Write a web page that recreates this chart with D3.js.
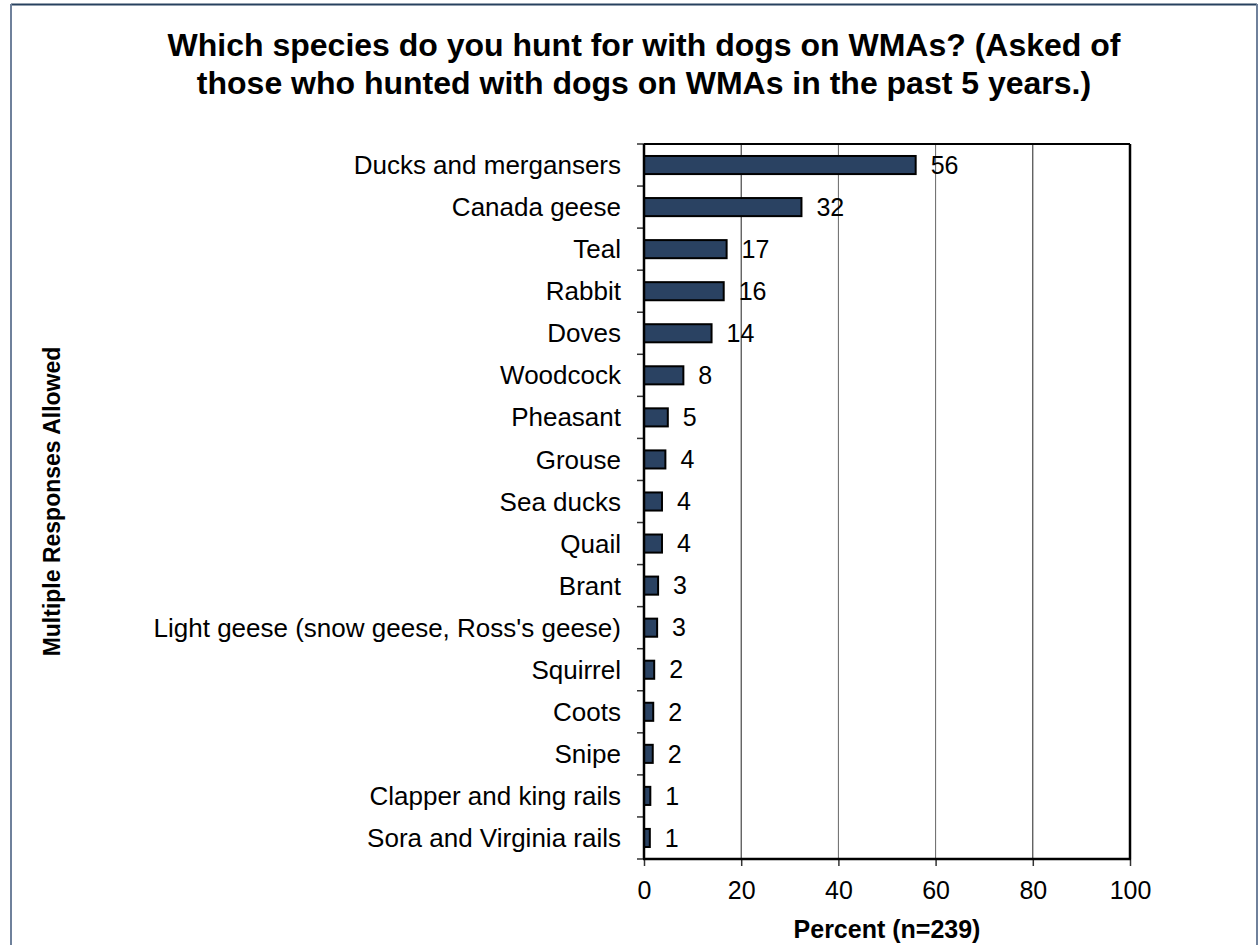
<!DOCTYPE html>
<html>
<head>
<meta charset="utf-8">
<script src="https://cdn.jsdelivr.net/npm/d3@7"></script>
<style>
  html, body { margin: 0; padding: 0; background: #fff; }
  svg { display: block; font-family: "Liberation Sans", Arial, sans-serif; }
</style>
</head>
<body>
<svg id="chart" width="1259" height="945"></svg>
<script>
const titleLines = [
  "Which species do you hunt for with dogs on WMAs? (Asked of",
  "those who hunted with dogs on WMAs in the past 5 years.)"
];
const categories = [
  "Ducks and mergansers", "Canada geese", "Teal", "Rabbit", "Doves",
  "Woodcock", "Pheasant", "Grouse", "Sea ducks", "Quail", "Brant",
  "Light geese (snow geese, Ross's geese)", "Squirrel", "Coots", "Snipe",
  "Clapper and king rails", "Sora and Virginia rails"
];
const values = [55.9, 32.4, 17.0, 16.4, 13.9, 8.1, 4.9, 4.4, 3.7, 3.7, 2.9, 2.7, 2.1, 1.9, 1.8, 1.3, 1.2];
const labels = ["56", "32", "17", "16", "14", "8", "5", "4", "4", "4", "3", "3", "2", "2", "2", "1", "1"];
const xTicks = [0, 20, 40, 60, 80, 100];
const xTitle = "Percent (n=239)";
const yTitle = "Multiple Responses Allowed";

const svg = d3.select("#chart");
const plot = { left: 644, right: 1130, top: 144, bottom: 859 };

// outer border
svg.append("line").attr("x1", 11).attr("x2", 1257).attr("y1", 4.5).attr("y2", 4.5)
  .attr("stroke", "#27415f").attr("stroke-width", 2);
svg.append("line").attr("x1", 11).attr("x2", 11).attr("y1", 4).attr("y2", 945)
  .attr("stroke", "#6f819b").attr("stroke-width", 2);
svg.append("line").attr("x1", 1257).attr("x2", 1257).attr("y1", 4).attr("y2", 945)
  .attr("stroke", "#6f819b").attr("stroke-width", 2);

// title
svg.append("text").attr("x", 644).attr("text-anchor", "middle")
  .attr("font-weight", "bold").attr("font-size", 32).attr("fill", "#000")
  .selectAll("tspan").data(titleLines).join("tspan")
  .attr("x", 644).attr("y", (d, i) => 56 + i * 38).text(d => d);

const x = d3.scaleLinear().domain([0, 100]).range([plot.left, plot.right]);
const y = d3.scaleBand().domain(categories).range([plot.top, plot.bottom]).paddingInner(0.57).paddingOuter(0.285);
const yFull = d3.scaleBand().domain(categories).range([plot.top, plot.bottom]);

// gridlines
const gridColors = { 20: "#222", 40: "#666", 60: "#666", 80: "#222" };
svg.append("g").selectAll("line").data(xTicks.filter(t => t > 0 && t < 100)).join("line")
  .attr("x1", d => x(d)).attr("x2", d => x(d))
  .attr("y1", plot.top).attr("y2", plot.bottom)
  .attr("stroke", d => gridColors[d]).attr("stroke-width", 1);

// category ticks (at band boundaries)
const bounds = categories.map(c => yFull(c)).concat([plot.bottom]);
svg.append("g").selectAll("line").data(bounds).join("line")
  .attr("x1", plot.left - 7).attr("x2", plot.left)
  .attr("y1", d => d).attr("y2", d => d)
  .attr("stroke", "#333").attr("stroke-width", 1.5);

// bars
svg.append("g").selectAll("rect").data(values).join("rect")
  .attr("x", x(0))
  .attr("y", (d, i) => y(categories[i]))
  .attr("width", d => x(d) - x(0))
  .attr("height", y.bandwidth())
  .attr("fill", "#2a4262").attr("stroke", "#000").attr("stroke-width", 2);

// value labels
svg.append("g").selectAll("text").data(values).join("text")
  .attr("x", d => x(d) + 15)
  .attr("y", (d, i) => yFull(categories[i]) + yFull.bandwidth() / 2)
  .attr("dy", "0.35em").attr("font-size", 25).attr("fill", "#000")
  .text((d, i) => labels[i]);

// category labels
svg.append("g").selectAll("text").data(categories).join("text")
  .attr("x", plot.left - 23)
  .attr("y", d => yFull(d) + yFull.bandwidth() / 2)
  .attr("dy", "0.35em").attr("text-anchor", "end").attr("font-size", 26).attr("fill", "#000")
  .text(d => d);

// x axis
const xAxis = svg.append("g").attr("transform", `translate(0,${plot.bottom})`)
  .call(d3.axisBottom(x).tickValues(xTicks).tickSize(7).tickPadding(15).tickSizeOuter(0));
xAxis.select(".domain").remove();
xAxis.selectAll(".tick line").attr("stroke", "#333").attr("stroke-width", 1.5);
xAxis.selectAll(".tick text").attr("font-size", 25).attr("fill", "#000")
  .attr("font-family", "Liberation Sans, Arial, sans-serif");

// frame
svg.append("line").attr("x1", plot.left).attr("x2", plot.right).attr("y1", plot.top).attr("y2", plot.top)
  .attr("stroke", "#000").attr("stroke-width", 2);
svg.append("line").attr("x1", plot.right).attr("x2", plot.right).attr("y1", plot.top).attr("y2", plot.bottom)
  .attr("stroke", "#000").attr("stroke-width", 2.5);
svg.append("line").attr("x1", plot.left - 1).attr("x2", plot.right + 1).attr("y1", plot.bottom).attr("y2", plot.bottom)
  .attr("stroke", "#000").attr("stroke-width", 2.5);
svg.append("line").attr("x1", plot.left).attr("x2", plot.left).attr("y1", plot.top).attr("y2", plot.bottom)
  .attr("stroke", "#000").attr("stroke-width", 2.5);

// axis titles
svg.append("text").attr("x", (plot.left + plot.right) / 2).attr("y", 938)
  .attr("text-anchor", "middle").attr("font-weight", "bold").attr("font-size", 25).attr("fill", "#000")
  .text(xTitle);
svg.append("text")
  .attr("transform", `translate(${60},${(plot.top + plot.bottom) / 2}) rotate(-90)`)
  .attr("text-anchor", "middle").attr("font-weight", "bold").attr("font-size", 23).attr("fill", "#000")
  .text(yTitle);
</script>
</body>
</html>
